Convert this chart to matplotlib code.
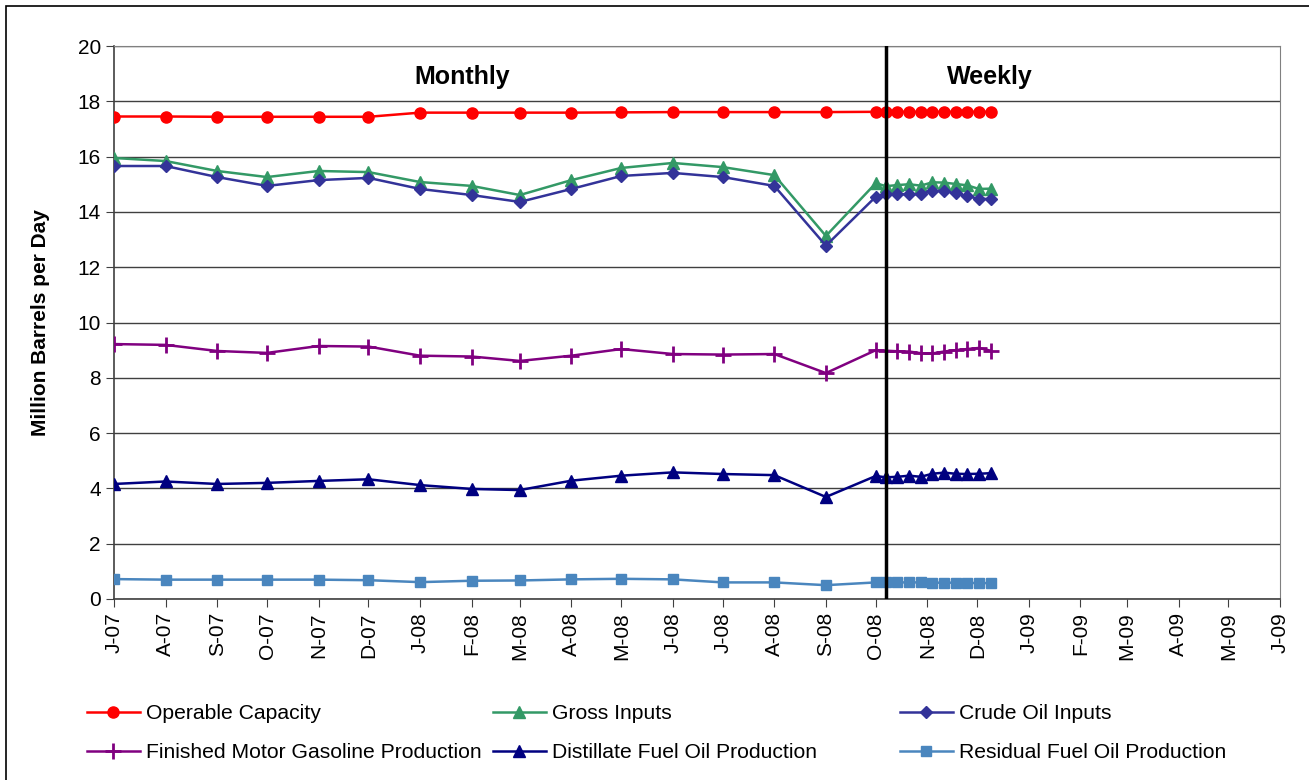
import datetime as dt

import matplotlib
matplotlib.use("Agg")
import matplotlib.pyplot as plt
from matplotlib.patches import Rectangle

plt.rcParams["font.family"] = ["Liberation Sans", "DejaVu Sans"]

# 月度数据：2007-07 ~ 2008-10，周度数据：2008-10-07 起每周一点
monthly_dates = [dt.date(2007 + (6 + i) // 12, (6 + i) % 12 + 1, 1) for i in range(16)]
weekly_dates = [dt.date(2008, 10, 7) + dt.timedelta(days=7 * i) for i in range(10)]
dates = monthly_dates + weekly_dates

operable = [17.45, 17.45, 17.44, 17.44, 17.44, 17.44, 17.59, 17.59, 17.59, 17.59,
            17.60, 17.61, 17.61, 17.61, 17.61, 17.62,
            17.62, 17.62, 17.62, 17.62, 17.62, 17.62, 17.62, 17.62, 17.62, 17.62]
gross = [15.95, 15.84, 15.48, 15.26, 15.48, 15.44, 15.08, 14.94, 14.61, 15.15,
         15.59, 15.77, 15.62, 15.33, 13.13, 15.04,
         14.93, 14.97, 15.00, 14.95, 15.07, 15.06, 15.01, 14.96, 14.83, 14.84]
crude = [15.66, 15.66, 15.26, 14.94, 15.15, 15.23, 14.83, 14.61, 14.36, 14.83,
         15.30, 15.41, 15.26, 14.94, 12.78, 14.55,
         14.64, 14.64, 14.64, 14.64, 14.76, 14.76, 14.67, 14.56, 14.48, 14.46]
gasoline = [9.22, 9.19, 8.97, 8.90, 9.15, 9.13, 8.80, 8.77, 8.61, 8.80,
            9.04, 8.86, 8.84, 8.86, 8.17, 9.00,
            8.98, 8.96, 8.95, 8.89, 8.88, 8.95, 9.00, 9.04, 9.08, 8.98]
distillate = [4.16, 4.25, 4.16, 4.20, 4.27, 4.33, 4.12, 3.98, 3.94, 4.28,
              4.46, 4.58, 4.52, 4.48, 3.69, 4.45,
              4.40, 4.42, 4.46, 4.42, 4.53, 4.57, 4.53, 4.52, 4.53, 4.55]
residual = [0.72, 0.70, 0.70, 0.70, 0.70, 0.68, 0.61, 0.66, 0.67, 0.71,
            0.73, 0.71, 0.60, 0.60, 0.50, 0.60,
            0.60, 0.60, 0.60, 0.60, 0.59, 0.59, 0.59, 0.59, 0.57, 0.58]

series = [
    ("Operable Capacity", operable, "#FF0000", "o", 8),
    ("Gross Inputs", gross, "#339966", "^", 8),
    ("Crude Oil Inputs", crude, "#333399", "D", 6.5),
    ("Finished Motor Gasoline Production", gasoline, "#800080", "+", 11),
    ("Distillate Fuel Oil Production", distillate, "#000080", "^", 8),
    ("Residual Fuel Oil Production", residual, "#4A86BE", "s", 7.5),
]

month_ticks = [dt.date(2007 + (6 + i) // 12, (6 + i) % 12 + 1, 1) for i in range(24)]

fig = plt.figure(figsize=(13.09, 7.80), dpi=100)
ax = fig.add_axes([114 / 1309, 1 - 599 / 780, (1280 - 114) / 1309, (599 - 46) / 780])

handles = []
for name, vals, color, marker, ms in series:
    mew = 2 if marker == "+" else 1
    (ln,) = ax.plot(dates, vals, color=color, marker=marker, markersize=ms,
                    markeredgewidth=mew, linewidth=1.8, label=name, zorder=3)
    handles.append(ln)

ax.axvline(weekly_dates[0], color="black", linewidth=2.5, zorder=4)

ax.set_ylim(0, 20)
ax.set_yticks(range(0, 21, 2))
ax.set_xlim(month_ticks[0], month_ticks[-1])
ax.set_xticks(month_ticks)
ax.set_xticklabels([d.strftime("%b")[0] + "-" + d.strftime("%y") for d in month_ticks],
                   rotation=90)
ax.tick_params(axis="both", labelsize=15, length=6, direction="out", color="#404040")
ax.grid(axis="y", color="#404040", linewidth=1)
ax.set_axisbelow(True)
for side in ["top", "right"]:
    ax.spines[side].set_color("#808080")
for side in ["left", "bottom"]:
    ax.spines[side].set_color("#404040")
    ax.spines[side].set_linewidth(1.2)

ax.set_ylabel("Million Barrels per Day", fontsize=15, fontweight="bold", labelpad=20)
ax.text(0.299, 0.965, "Monthly", transform=ax.transAxes, fontsize=18,
        fontweight="bold", ha="center", va="top")
ax.text(0.751, 0.965, "Weekly", transform=ax.transAxes, fontsize=18,
        fontweight="bold", ha="center", va="top")

# 图例分三列手动摆放
col_x = [87, 493, 900]
for i, x in enumerate(col_x):
    fig.legend([handles[i], handles[i + 3]], [handles[i].get_label(), handles[i + 3].get_label()],
               loc="upper left", bbox_to_anchor=(x / 1309, 1 - 704 / 780),
               frameon=False, fontsize=15.2, handlelength=2.5, handletextpad=0.3,
               borderpad=0, borderaxespad=0, labelspacing=0.95)

fig.patches.append(Rectangle((6 / 1309, -0.01), 1.02, 1 - 6 / 780 + 0.01,
                             transform=fig.transFigure, fill=False,
                             edgecolor="black", linewidth=1.2))

fig.savefig("out.png", dpi=100)
